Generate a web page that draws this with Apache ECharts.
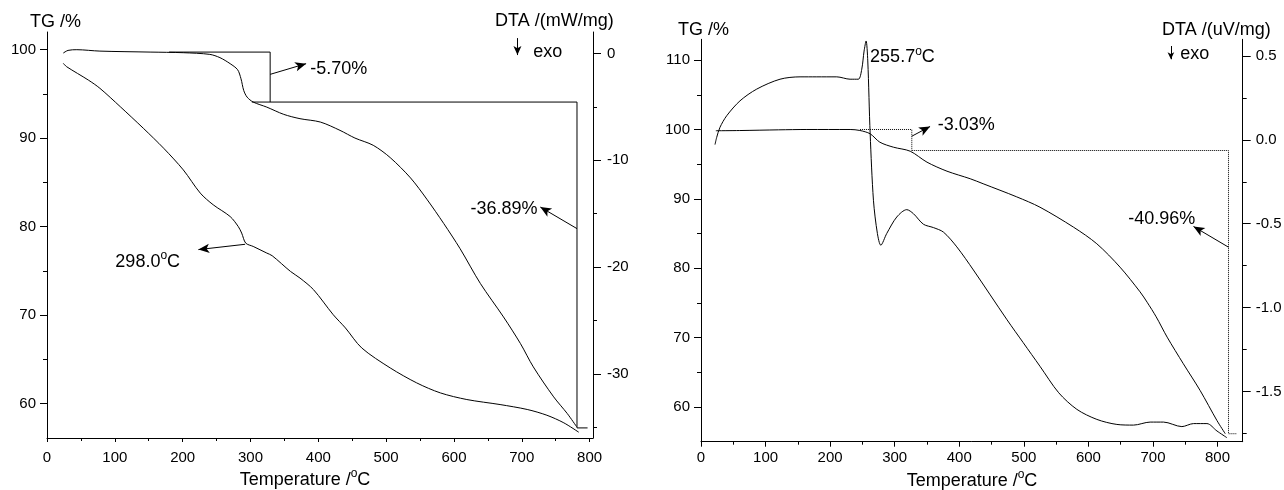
<!DOCTYPE html>
<html>
<head>
<meta charset="utf-8">
<title>TG-DTA</title>
<script src="https://cdn.jsdelivr.net/npm/echarts@6.0.0/dist/echarts.min.js"></script>
<style>
  html, body { margin: 0; padding: 0; background: #fff; }
  #chart { width: 1284px; height: 490px; }
</style>
</head>
<body>
<div id="chart"></div>
<script>
const FONT = "'Liberation Sans', Arial, sans-serif";

// left sample (DTA in mW/mg)
const tgLeftTemp = [24, 31, 44, 78, 152, 201, 240, 255, 270, 281, 286, 290, 295, 304, 324, 349, 373, 403, 432, 454, 481, 506, 536, 560, 585, 609, 639, 673, 698, 717, 747, 767, 781];
const tgLeftValue = [99.62, 99.92, 100.0, 99.84, 99.73, 99.66, 99.47, 99.1, 98.42, 97.74, 96.72, 95.4, 94.64, 94.08, 93.51, 92.69, 92.2, 91.82, 90.88, 90.01, 89.19, 87.8, 85.5, 83.1, 80.34, 77.51, 73.56, 69.79, 66.78, 64.14, 60.75, 58.87, 57.36];
const dtaLeftTemp = [24, 29, 61, 78, 108, 142, 172, 201, 226, 245, 270, 282, 287, 293, 304, 324, 332, 359, 373, 393, 422, 440, 464, 506, 545, 580, 619, 668, 708, 737, 762, 784];
const dtaLeftValue = [-0.93, -1.25, -2.5, -3.27, -4.99, -7.01, -8.88, -10.91, -13.08, -14.17, -15.27, -16.21, -16.82, -17.76, -18.07, -18.69, -18.94, -20.41, -21.03, -22.12, -24.46, -25.7, -27.57, -29.44, -30.84, -31.78, -32.4, -32.87, -33.33, -33.87, -34.58, -35.46];

// right sample (DTA in uV/mg)
const tgRightTemp = [23, 60, 120, 164, 231, 246, 262, 277, 298, 324, 350, 381, 417, 437, 489, 525, 577, 613, 649, 680, 691, 705, 722, 747, 773, 799, 812];
const tgRightValue = [99.82, 99.85, 99.95, 100.0, 100.0, 99.86, 99.38, 98.17, 97.45, 96.87, 95.29, 93.99, 92.9, 92.18, 90.29, 88.8, 85.92, 83.53, 80.16, 76.6, 75.1, 73.0, 70.07, 66.24, 62.39, 58.07, 56.15];
const dtaRightTemp = [21.7, 24.3, 29.4, 39.8, 60.4, 86.3, 122.4, 153.4, 179.3, 210.3, 230.9, 243.7, 249, 252.6, 255.7, 258.3, 262, 267.1, 273.2, 278.5, 287.7, 303.2, 318.7, 329, 344.5, 360, 375.5, 396.2, 421.9, 474, 499, 525, 554, 582.1, 613.1, 644.1, 669.9, 695.7, 716.4, 744.8, 762.8, 783.6, 799.1, 814.5];
const dtaRightValue = [-0.028, 0.015, 0.075, 0.144, 0.233, 0.303, 0.362, 0.376, 0.376, 0.376, 0.362, 0.362, 0.422, 0.53, 0.59, 0.471, 0.036, -0.36, -0.558, -0.628, -0.558, -0.46, -0.416, -0.44, -0.503, -0.523, -0.55, -0.638, -0.776, -1.073, -1.209, -1.35, -1.508, -1.607, -1.667, -1.697, -1.701, -1.683, -1.683, -1.71, -1.692, -1.692, -1.736, -1.776];

// tick labels
const tempTicks = [0, 100, 200, 300, 400, 500, 600, 700, 800];
const tempMinorTicks = [50, 150, 250, 350, 450, 550, 650, 750];
const tgLeftTicks = [60, 70, 80, 90, 100];
const tgLeftMinorTicks = [65, 75, 85, 95];
const dtaLeftTicks = [0, -10, -20, -30];
const dtaLeftMinorTicks = [-5, -15, -25, -35];
const tgRightTicks = [60, 70, 80, 90, 100, 110];
const tgRightMinorTicks = [65, 75, 85, 95, 105];
const dtaRightTicks = [0.5, 0, -0.5, -1, -1.5];
const dtaRightMinorTicks = [0.25, -0.25, -0.75, -1.25, -1.75];

// mass-loss steps, arrows and notes (temperature, TG)
const leftStepA = [[180, 99.73], [329, 99.73], [329, 94.08]];
const leftStepB = [[302, 94.08], [781.4, 94.08], [781.4, 57.24], [797, 57.24]];
const rightStepA = [[246.4, 100], [326.5, 100], [326.5, 96.97]];
const rightStepB = [[326.5, 96.97], [817, 96.97], [817, 56.15], [830, 56.15]];

const leftArrows = [
  [[329, 97.21], [382, 98.42]],
  [[781.4, 79.77], [727.3, 82.21]],
  [[292.1, 78.0], [223.2, 77.4]]
];
const rightArrows = [
  [[326.5, 99.03], [354.8, 100.43]],
  [[817, 83.04], [762.8, 86.02]]
];
const leftNotes = [
  { text: "-5.70%", at: [388, 97.85], side: "right" },
  { text: "-36.89%", at: [723.3, 82.03], side: "left" },
  { text: "298.0{s|o}C", at: [196.2, 76.0], side: "left" }
];
const rightNotes = [
  { text: "-3.03%", at: [366.7, 100.6], side: "right" },
  { text: "-40.96%", at: [765.4, 87.13], side: "left" },
  { text: "255.7{s|o}C", at: [261.9, 110.42], side: "right" }
];
// "exo" marks in DTA units
const leftExoArrow = [[693.6, 1.43], [693.6, -0.16]];
const leftExoText = [716.9, 0.15];
const rightExoArrow = [[727.8, 0.56], [727.8, 0.481]];
const rightExoText = [742.2, 0.514];

const zip = (t, v) => t.map((x, i) => [x, v[i]]);

// superscript "o" for degree signs
const richSup = {
  n: { fontSize: 18, fontFamily: FONT, color: "#000", lineHeight: 24 },
  s: { fontSize: 12, fontFamily: FONT, color: "#000", lineHeight: 12, verticalAlign: "top" }
};

function majorAxis(gridIndex, position, min, max, ticks, tickLength, margin, formatter) {
  return {
    type: "value",
    gridIndex,
    position,
    min,
    max,
    axisLine: { show: true, onZero: false, lineStyle: { color: "#000", width: 1 } },
    axisTick: { show: true, inside: false, length: tickLength, customValues: ticks, lineStyle: { color: "#000", width: 1 } },
    axisLabel: { show: true, customValues: ticks, margin, color: "#000", fontSize: 15, fontFamily: FONT, formatter },
    splitLine: { show: false },
    minorTick: { show: false }
  };
}

function minorAxis(gridIndex, position, min, max, ticks, tickLength) {
  return {
    type: "value",
    gridIndex,
    position,
    min,
    max,
    axisLine: { show: false, onZero: false },
    axisTick: { show: true, inside: false, length: tickLength, customValues: ticks, lineStyle: { color: "#000", width: 1 } },
    axisLabel: { show: false },
    splitLine: { show: false }
  };
}

function curve(xi, yi, data) {
  return {
    type: "line",
    xAxisIndex: xi,
    yAxisIndex: yi,
    data,
    showSymbol: false,
    smooth: 0.3,
    silent: true,
    lineStyle: { color: "#000", width: 1 }
  };
}

function step(xi, yi, data, type) {
  return {
    type: "line",
    xAxisIndex: xi,
    yAxisIndex: yi,
    data,
    showSymbol: false,
    silent: true,
    lineStyle: { color: "#000", width: 1, type }
  };
}

function arrowMarks(arrows, size) {
  return {
    silent: true,
    symbol: ["none", "arrow"],
    symbolSize: size,
    lineStyle: { color: "#000", width: 1, type: "solid" },
    itemStyle: { color: "#000" },
    label: { show: false },
    data: arrows.map(a => [{ coord: a[0] }, { coord: a[1] }])
  };
}

function noteMarks(notes) {
  return {
    silent: true,
    symbol: "circle",
    symbolSize: 0,
    data: notes.map(n => ({
      coord: n.at,
      label: {
        show: true,
        position: n.side,
        distance: 0,
        formatter: "{n|" + n.text.replace("{s|o}", "}{s|o}{n|") + "}",
        rich: richSup
      }
    }))
  };
}

const chart = echarts.init(document.getElementById("chart"));

const tgLeft = curve(0, 0, zip(tgLeftTemp, tgLeftValue));
tgLeft.markLine = arrowMarks(leftArrows, [7, 11]);
tgLeft.markPoint = noteMarks(leftNotes);

const dtaLeft = curve(0, 2, zip(dtaLeftTemp, dtaLeftValue));
dtaLeft.markLine = arrowMarks([leftExoArrow], [6, 9]);
dtaLeft.markPoint = noteMarks([{ text: "exo", at: leftExoText, side: "right" }]);

const tgRight = curve(2, 4, zip(tgRightTemp, tgRightValue));
tgRight.markLine = arrowMarks(rightArrows, [7, 11]);
tgRight.markPoint = noteMarks(rightNotes);

const dtaRight = curve(2, 6, zip(dtaRightTemp, dtaRightValue));
dtaRight.markLine = arrowMarks([rightExoArrow], [5, 7]);
dtaRight.markPoint = noteMarks([{ text: "exo", at: rightExoText, side: "right" }]);

const axisTitleRich = {
  n: { fontSize: 18, fontFamily: FONT, fill: "#000", lineHeight: 24 },
  s: { fontSize: 12, fontFamily: FONT, fill: "#000", lineHeight: 12, verticalAlign: "top" }
};

const option = {
  animation: false,
  backgroundColor: "#fff",
  grid: [
    { left: 47, top: 32, right: 691, bottom: 52, containLabel: false, outerBoundsMode: "none" },
    { left: 701, top: 39.3, right: 41.3, bottom: 48.3, containLabel: false, outerBoundsMode: "none" }
  ],
  xAxis: [
    majorAxis(0, "bottom", 0, 805, tempTicks, 4, 12),
    minorAxis(0, "bottom", 0, 805, tempMinorTicks, 3),
    majorAxis(1, "bottom", 0, 839, tempTicks, 5, 9),
    minorAxis(1, "bottom", 0, 839, tempMinorTicks, 3)
  ],
  yAxis: [
    majorAxis(0, "left", 56.1, 102, tgLeftTicks, 7, 11),
    minorAxis(0, "left", 56.1, 102, tgLeftMinorTicks, 4),
    majorAxis(0, "right", -36, 2, dtaLeftTicks, 8, 14),
    minorAxis(0, "right", -36, 2, dtaLeftMinorTicks, 4),
    majorAxis(1, "left", 55, 113, tgRightTicks, 7, 11),
    minorAxis(1, "left", 55, 113, tgRightMinorTicks, 4),
    majorAxis(1, "right", -1.8, 0.6, dtaRightTicks, 8, 13, v => v.toFixed(1)),
    minorAxis(1, "right", -1.8, 0.6, dtaRightMinorTicks, 4)
  ],
  graphic: [
    { type: "text", x: 30, y: 22, style: { text: "TG /%", fontSize: 18, fontFamily: FONT, fill: "#000", verticalAlign: "middle" } },
    { type: "text", x: 495, y: 21, style: { text: "DTA /(mW/mg)", fontSize: 18, fontFamily: FONT, fill: "#000", verticalAlign: "middle" } },
    { type: "text", x: 678, y: 30, style: { text: "TG /%", fontSize: 18, fontFamily: FONT, fill: "#000", verticalAlign: "middle" } },
    { type: "text", x: 1162, y: 30, style: { text: "DTA /(uV/mg)", fontSize: 18, fontFamily: FONT, fill: "#000", verticalAlign: "middle" } },
    {
      type: "text", x: 305, y: 480,
      style: { text: "{n|Temperature /}{s|o}{n|C}", align: "center", verticalAlign: "middle", rich: axisTitleRich }
    },
    {
      type: "text", x: 972, y: 481,
      style: { text: "{n|Temperature /}{s|o}{n|C}", align: "center", verticalAlign: "middle", rich: axisTitleRich }
    }
  ],
  series: [
    tgLeft,
    dtaLeft,
    step(0, 0, leftStepA, "solid"),
    step(0, 0, leftStepB, "solid"),
    tgRight,
    dtaRight,
    step(2, 4, rightStepA, "dotted"),
    step(2, 4, rightStepB, "dotted")
  ]
};

chart.setOption(option);
</script>
</body>
</html>
